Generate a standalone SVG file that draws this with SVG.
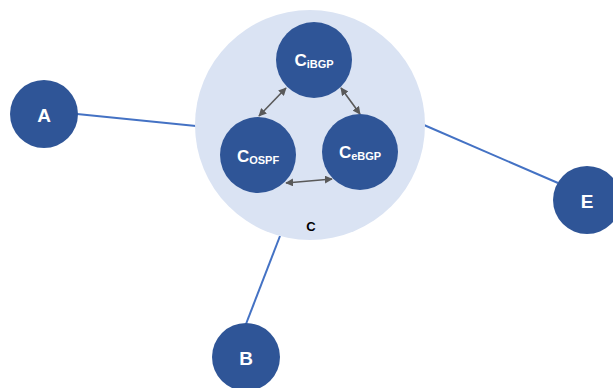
<svg xmlns="http://www.w3.org/2000/svg" width="613" height="388" viewBox="0 0 613 388">
<defs>
<style>
.node{fill:#2F5597;}
.big{fill:#DAE3F3;}
.link{stroke:#4472C4;stroke-width:2;fill:none;}
.arr{stroke:#595959;stroke-width:1.6;fill:none;marker-start:url(#ah);marker-end:url(#ah);}
.lbl{font-family:"Liberation Sans",Arial,sans-serif;font-weight:bold;fill:#fff;text-anchor:middle;}
.big-lbl{font-family:"Liberation Sans",Arial,sans-serif;font-weight:bold;fill:#000;font-size:13px;text-anchor:middle;}
</style>
<marker id="ah" viewBox="0 0 10 10" refX="9" refY="5" markerWidth="5" markerHeight="5" orient="auto-start-reverse">
<path d="M0,0 L10,5 L0,10 z" fill="#595959"/>
</marker>
</defs>
<rect width="613" height="388" fill="#fff"/>
<g id="connectors">
<line class="link" x1="77" y1="114" x2="196" y2="126"/>
<line class="link" x1="424" y1="125" x2="558" y2="183"/>
<line class="link" x1="280" y1="236" x2="246" y2="324"/>
</g>
<g id="C">
<circle class="big" cx="310" cy="125" r="115"/>
<text class="big-lbl" x="311" y="231">C</text>
</g>
<g id="inner-connectors">
<line class="arr" x1="286" y1="88" x2="259" y2="116"/>
<line class="arr" x1="341" y1="88" x2="360" y2="114"/>
<line class="arr" x1="286" y1="183" x2="332" y2="179"/>
</g>
<g id="C_iBGP">
<circle class="node" cx="314" cy="60" r="38"/>
<text class="lbl" x="314" y="66" font-size="17">C<tspan font-size="11" dy="2">iBGP</tspan></text>
</g>
<g id="C_OSPF">
<circle class="node" cx="258" cy="155" r="38"/>
<text class="lbl" x="258" y="162" font-size="17">C<tspan font-size="11" dy="2">OSPF</tspan></text>
</g>
<g id="C_eBGP">
<circle class="node" cx="360" cy="152" r="38"/>
<text class="lbl" x="360" y="158" font-size="17">C<tspan font-size="11" dy="2">eBGP</tspan></text>
</g>
<g id="A">
<circle class="node" cx="44" cy="114" r="34"/>
<text class="lbl" x="44" y="122" font-size="19">A</text>
</g>
<g id="E">
<circle class="node" cx="587" cy="200" r="34"/>
<text class="lbl" x="587" y="208" font-size="19">E</text>
</g>
<g id="B">
<circle class="node" cx="246" cy="357" r="34"/>
<text class="lbl" x="246" y="365" font-size="19">B</text>
</g>
</svg>
